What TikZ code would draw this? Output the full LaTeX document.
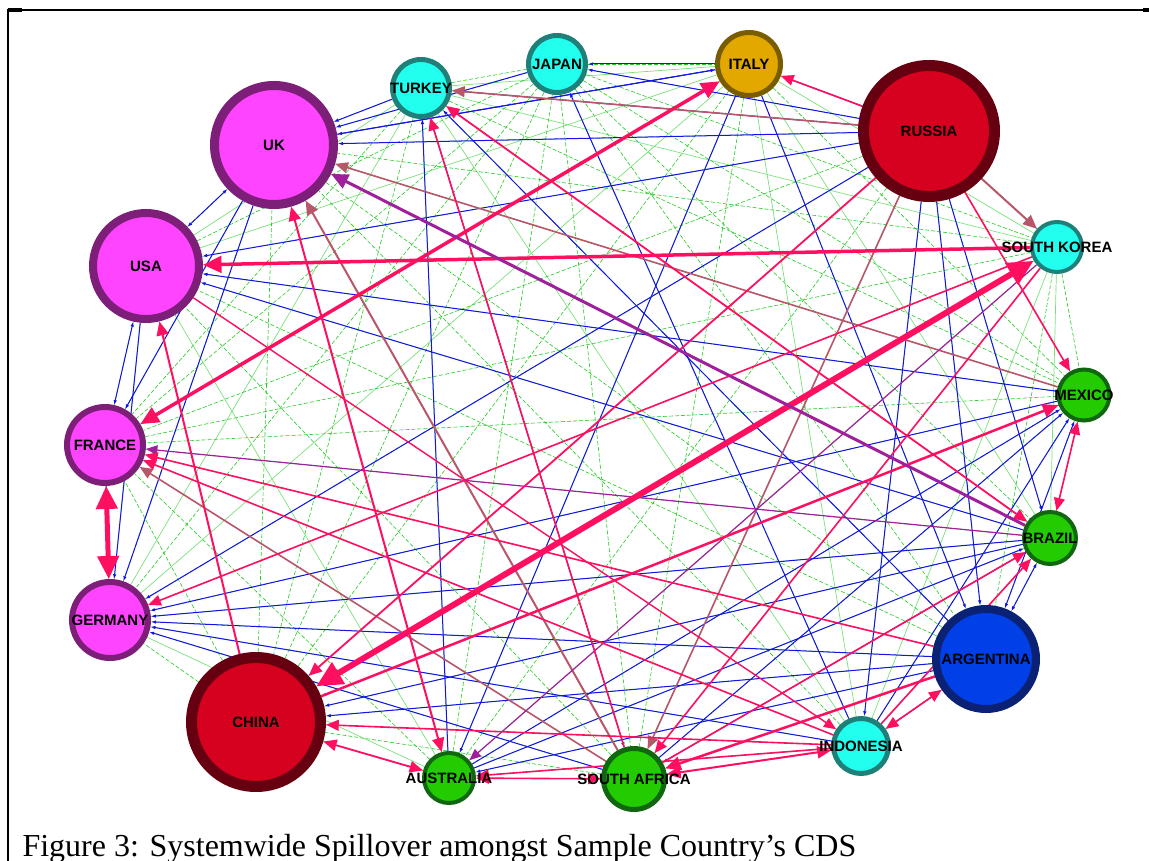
\documentclass[tikz,border=0pt]{standalone}
\usepackage{fontspec}
\setmainfont{Liberation Serif}
\setsansfont{Liberation Sans}
\usetikzlibrary{arrows.meta}
\pgfdeclarelayer{bg}\pgfsetlayers{bg,main}
\definecolor{mag}{HTML}{FF44FF}\definecolor{magb}{HTML}{7D1F78}
\definecolor{cya}{HTML}{22FFEE}\definecolor{cyab}{HTML}{1E8078}
\definecolor{gold}{HTML}{E2A800}\definecolor{goldb}{HTML}{7A5C00}
\definecolor{rd}{HTML}{D6001F}\definecolor{rdb}{HTML}{660010}
\definecolor{gn}{HTML}{22CC00}\definecolor{gnb}{HTML}{116610}
\definecolor{bl}{HTML}{0040E6}\definecolor{blb}{HTML}{0B2274}
\definecolor{grn}{HTML}{22CC22}\definecolor{lnk}{HTML}{1414E6}
\definecolor{spl}{HTML}{FF0F5F}\definecolor{brn}{HTML}{B8566A}\definecolor{vio}{HTML}{A0209C}
\tikzset{
 lbl/.style={font=\sffamily\bfseries\fontsize{15}{15}\selectfont,inner sep=0pt},
 ctry/.style={circle,inner sep=0pt,label={[lbl]center:#1}},
 mg/.style={fill=mag,draw=magb},cy/.style={fill=cya,draw=cyab},gd/.style={fill=gold,draw=goldb},
 rr/.style={fill=rd,draw=rdb},gg/.style={fill=gn,draw=gnb},bb/.style={fill=bl,draw=blb},
 web/.style={draw=grn,line width=.6pt,dash pattern=on 4pt off 2pt},
 webs/.style={draw=grn!60,line width=.7pt},
 link/.style={draw=lnk,line width=1pt,-{Latex[length=5pt,width=3.5pt]}},
 linkb/.style={draw=lnk,line width=1pt,{Latex[length=5pt,width=3.5pt]}-{Latex[length=5pt,width=3.5pt]}},
 spill/.style={draw=spl,-{Triangle[length=8pt 3,width=6pt 3]}},
 spillb/.style={draw=spl,{Triangle[length=8pt 3,width=6pt 3]}-{Triangle[length=8pt 3,width=6pt 3]}}
}
\def\ctrys{tr,jp,it,ru,kr,mx,br,ar,id,za,au,cn,de,fr,usa,uk}
\begin{document}
\begin{tikzpicture}[x=1pt,y=-1pt]
\useasboundingbox(0,0)rectangle(1149,861);
\draw[line width=2pt](1146,10)--(8,10)--(8,861);\draw[line width=3.5pt](8,10)--(22,10);\draw[line width=3.5pt](1143,10)--(1149,10);
% countries
\node[ctry=UK,mg,line width=9pt,minimum size=119pt](uk)at(274,145){};
\node[ctry=USA,mg,line width=8pt,minimum size=106pt](usa)at(146,266){};
\node[ctry=FRANCE,mg,line width=6pt,minimum size=76pt](fr)at(105,445){};
\node[ctry=GERMANY,mg,line width=6pt,minimum size=76pt](de)at(110,620){};
\node[ctry=CHINA,rr,line width=11pt,minimum size=129pt](cn)at(256,722){};
\node[ctry=AUSTRALIA,gg,line width=4pt,minimum size=50pt](au)at(449,778){};
\node[ctry=SOUTH AFRICA,gg,line width=5pt,minimum size=61pt](za)at(634,779){};
\node[ctry=INDONESIA,cy,line width=5pt,minimum size=55pt](id)at(861,746){};
\node[ctry=ARGENTINA,bb,line width=8pt,minimum size=100pt](ar)at(986,659){};
\node[ctry=BRAZIL,gg,line width=4pt,minimum size=52pt](br)at(1050,538){};
\node[ctry=MEXICO,gg,line width=4pt,minimum size=51pt](mx)at(1084,395){};
\node[ctry=SOUTH KOREA,cy,line width=4pt,minimum size=50pt](kr)at(1057,247){};
\node[ctry=RUSSIA,rr,line width=11pt,minimum size=131pt](ru)at(929,131){};
\node[ctry=ITALY,gd,line width=5pt,minimum size=63pt](it)at(749,64){};
\node[ctry=JAPAN,cy,line width=5pt,minimum size=57pt](jp)at(557,64){};
\node[ctry=TURKEY,cy,line width=5pt,minimum size=57pt](tr)at(421,88){};
% spillovers
\begin{pgfonlayer}{bg}
\foreach\a[count=\i]in\ctrys{\foreach\b[count=\j]in\ctrys{\ifnum\i<\j\ifodd\numexpr\i*\j\relax\draw[webs](\a)--(\b);\else\draw[web](\a)--(\b);\fi\fi}}
\foreach\a/\b in{tr/uk,jp/uk,it/uk,ru/uk,ru/usa,ru/tr,ru/jp,ru/it,it/jp,uk/it,usa/de,fr/de,uk/de,uk/fr,mx/usa,br/usa,ar/de,id/de,br/de,mx/de,za/de,ru/de,ar/cn,mx/cn,br/cn,ar/tr,id/jp,tr/za,it/au,it/ar,ru/ar,ru/id,ru/br,za/mx,au/br,id/mx,au/mx,au/tr,br/za,ar/au}\draw[link](\a)--(\b);
\foreach\a/\b in{uk/usa,usa/fr,mx/ar,br/ar,id/ar}\draw[linkb](\a)--(\b);
\foreach\a/\b/\w in{mx/uk/1.6,ru/tr/1.6,ru/kr/2,za/uk/2,za/fr/1.6,ru/za/1.6}\draw[spill,draw=brn,line width=\w pt](\a)--(\b);
\foreach\a/\b/\w in{br/fr/1.2,kr/au/1.2}\draw[spill,draw=vio,line width=\w pt](\a)--(\b);
\foreach\a/\b/\w in{kr/usa/3.5,ru/mx/1.6,cn/usa/2,za/tr/1.6,ru/cn/1.8,kr/de/1.6,ar/fr/1.6,id/fr/1.6,id/cn/1.6,ar/za/2.5,id/au/1.6,kr/za/1.6,ru/it/1.6,za/br/1.6,id/br/1.6,cn/mx/2.5,usa/id/1.4}\draw[spill,line width=\w pt](\a)--(\b);
\foreach\a/\b/\w in{cn/kr/6,fr/it/3.5,fr/de/5,mx/br/1.6,uk/au/2,cn/au/1.8,za/id/2,au/za/1.6,ar/id/1.6,tr/br/1.8}\draw[spillb,line width=\w pt](\a)--(\b);
\draw[spill,draw=vio,line width=3pt](br)--(uk);
\end{pgfonlayer}
\node[anchor=base west,font=\fontsize{32}{33}\selectfont](cap)at(19,856){Figure 3: Systemwide Spillover amongst Sample Country’s CDS};
\end{tikzpicture}
\end{document}
